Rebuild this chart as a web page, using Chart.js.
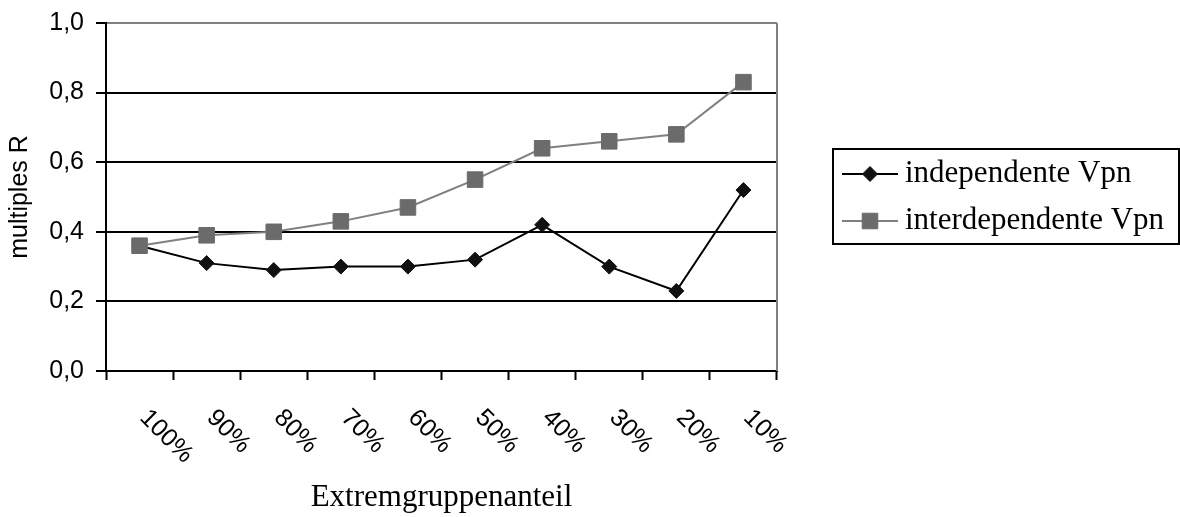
<!DOCTYPE html>
<html>
<head>
<meta charset="utf-8">
<script src="https://cdn.jsdelivr.net/npm/chart.js@4.4.0/dist/chart.umd.min.js"></script>
<style>
  html, body { margin: 0; padding: 0; background: #fff; }
  #wrap { width: 1180px; height: 517px; position: relative; }
</style>
</head>
<body>
<div id="wrap"><canvas id="chart"></canvas></div>
<script>
const categories = ['100%', '90%', '80%', '70%', '60%', '50%', '40%', '30%', '20%', '10%'];
const independent = [0.36, 0.31, 0.29, 0.30, 0.30, 0.32, 0.42, 0.30, 0.23, 0.52];
const interdependent = [0.36, 0.39, 0.40, 0.43, 0.47, 0.55, 0.64, 0.66, 0.68, 0.83];
const seriesNames = ['independente Vpn', 'interdependente Vpn'];
const yTicks = [0, 0.2, 0.4, 0.6, 0.8, 1.0];

const sansFont = 'Liberation Sans';
const serifFont = 'Liberation Serif';
const greyLine = '#808080';
const greyMark = '#6b6b6b';

Chart.defaults.font.family = sansFont;
Chart.defaults.color = '#000';

// category labels, rotated clockwise like the original
const xLabels = {
    id: 'xLabels',
    afterDraw(chart) {
        const { ctx, scales: { x } } = chart;
        ctx.save();
        ctx.font = '25px "' + sansFont + '"';
        ctx.fillStyle = '#000';
        ctx.textAlign = 'left';
        ctx.textBaseline = 'middle';
        categories.forEach((c, i) => {
            ctx.save();
            ctx.translate(x.getPixelForValue(i) + 4, x.top + 43);
            ctx.rotate(Math.PI / 4);
            ctx.fillText(c, 0, 0);
            ctx.restore();
        });
        ctx.restore();
    }
};

// grey right border of the plot area
const plotFrame = {
    id: 'plotFrame',
    beforeDatasetsDraw(chart) {
        const { ctx, chartArea: a } = chart;
        ctx.save();
        ctx.strokeStyle = greyLine;
        ctx.lineWidth = 2;
        ctx.beginPath();
        ctx.moveTo(a.right, a.top);
        ctx.lineTo(a.right, a.bottom);
        ctx.stroke();
        ctx.restore();
    }
};

// boxed legend with line + marker samples
const boxLegend = {
    id: 'boxLegend',
    afterDraw(chart) {
        const { ctx } = chart;
        const box = { x: 833, y: 149, w: 346, h: 95 };
        ctx.save();
        ctx.strokeStyle = '#000';
        ctx.lineWidth = 2;
        ctx.strokeRect(box.x, box.y, box.w, box.h);
        ctx.font = '31px "' + serifFont + '"';
        ctx.textBaseline = 'middle';
        ctx.textAlign = 'left';
        const rows = [174, 221];
        chart.data.datasets.forEach((ds, i) => {
            const y = rows[i];
            ctx.strokeStyle = ds.borderColor;
            ctx.lineWidth = 2;
            ctx.beginPath();
            ctx.moveTo(842, y);
            ctx.lineTo(898, y);
            ctx.stroke();
            ctx.fillStyle = ds.pointBackgroundColor;
            ctx.strokeStyle = ds.pointBorderColor;
            ctx.lineWidth = ds.pointBorderWidth;
            Chart.helpers.drawPoint(ctx, {
                pointStyle: ds.pointStyle,
                radius: ds.pointRadius,
                borderWidth: ds.pointBorderWidth,
                rotation: 0
            }, 870, y);
            ctx.fillStyle = '#000';
            ctx.fillText(ds.label, 905, y);
        });
        ctx.restore();
    }
};

new Chart(document.getElementById('chart'), {
    type: 'line',
    data: {
        labels: categories,
        datasets: [
            {
                label: seriesNames[0],
                data: independent,
                borderColor: '#000',
                borderWidth: 2,
                pointStyle: 'rectRot',
                pointRadius: 7.5,
                pointBackgroundColor: '#111',
                pointBorderColor: '#111',
                pointBorderWidth: 1,
                tension: 0,
                order: 1
            },
            {
                label: seriesNames[1],
                data: interdependent,
                borderColor: greyLine,
                borderWidth: 2,
                pointStyle: 'rect',
                pointRadius: 11,
                pointBackgroundColor: greyMark,
                pointBorderColor: greyMark,
                pointBorderWidth: 1,
                tension: 0,
                order: 0
            }
        ]
    },
    options: {
        responsive: true,
        maintainAspectRatio: false,
        animation: false,
        layout: { padding: { left: 0, top: 23, right: 403, bottom: 0 } },
        plugins: {
            legend: { display: false },
            tooltip: { enabled: false }
        },
        scales: {
            x: {
                offset: true,
                grid: {
                    offset: true,
                    drawOnChartArea: false,
                    drawTicks: true,
                    tickLength: 9,
                    tickWidth: 2,
                    tickColor: '#000'
                },
                border: { display: true, color: '#000', width: 2 },
                ticks: { display: false },
                title: {
                    display: true,
                    text: 'Extremgruppenanteil',
                    font: { family: serifFont, size: 31 },
                    padding: { top: 0, bottom: 1 }
                },
                afterFit(scale) {
                    scale.height = 146;
                    scale.paddingLeft = 0;
                    scale.paddingRight = 0;
                }
            },
            y: {
                min: 0,
                max: 1,
                afterBuildTicks(scale) { scale.ticks = yTicks.map(v => ({ value: v })); },
                grid: {
                    color: ctx => Math.abs(ctx.tick.value - 1) < 1e-6 ? greyLine : '#000',
                    lineWidth: 2,
                    drawTicks: true,
                    tickLength: 10,
                    tickWidth: 2,
                    tickColor: '#000'
                },
                border: { display: true, color: '#000', width: 2 },
                ticks: {
                    padding: 12,
                    font: { size: 25 },
                    callback: v => v.toFixed(1).replace('.', ',')
                },
                title: {
                    display: true,
                    text: 'multiples R',
                    font: { size: 25 },
                    padding: { top: 5, bottom: 0 }
                },
                afterFit(scale) {
                    scale.width = 106;
                    scale.paddingTop = 0;
                    scale.paddingBottom = 0;
                }
            }
        }
    },
    plugins: [plotFrame, xLabels, boxLegend]
});
</script>
</body>
</html>
